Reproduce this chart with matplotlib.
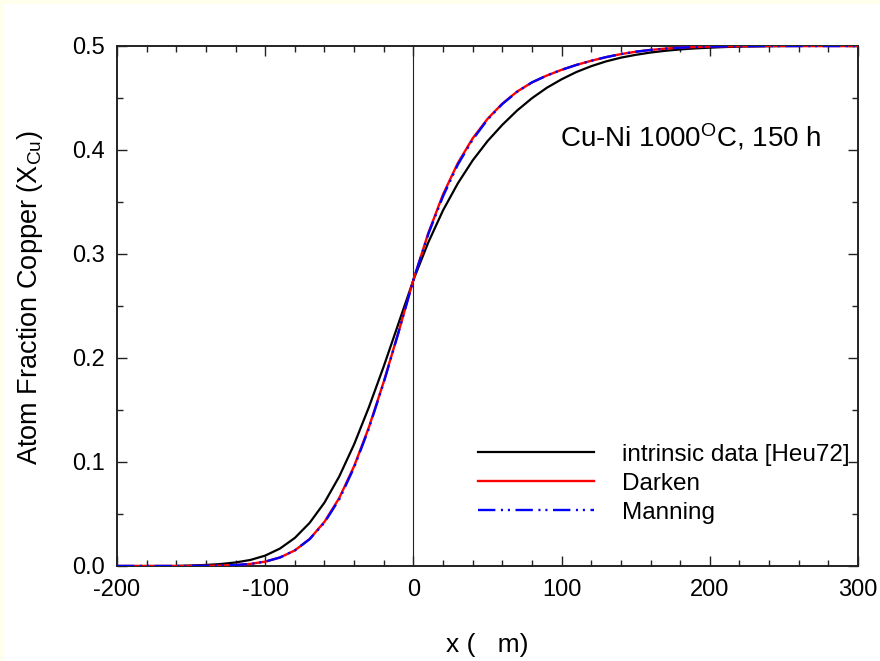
import matplotlib
matplotlib.use("Agg")
import matplotlib.pyplot as plt
from matplotlib.patches import Rectangle
from matplotlib.ticker import MultipleLocator, FormatStrFormatter

plt.rcParams['font.family'] = ['Liberation Sans', 'DejaVu Sans']
plt.rcParams['mathtext.fontset'] = 'custom'
plt.rcParams['mathtext.rm'] = 'Liberation Sans'
plt.rcParams['mathtext.it'] = 'Liberation Sans:italic'
plt.rcParams['lines.scale_dashes'] = False
plt.rcParams['axes.unicode_minus'] = False

# distance (micrometres)
x_um = [-200, -190, -180, -170, -160, -150, -140, -130, -120, -110,
        -100, -90, -80, -70, -60, -50, -40, -30, -20, -10,
        0, 10, 20, 30, 40, 50, 60, 70, 80, 90,
        100, 110, 120, 130, 140, 150, 160, 170, 180, 190,
        200, 210, 220, 230, 240, 250, 260, 270, 280, 290, 300]

# intrinsic data [Heu72]
x_intrinsic = [0.0, 0.0, 0.0, 0.0, 0.0, 0.0005, 0.0010, 0.0019, 0.0034, 0.0058,
               0.0100, 0.0168, 0.0270, 0.0415, 0.0610, 0.0862, 0.1170, 0.1528, 0.1920, 0.2335,
               0.2750, 0.3110, 0.3420, 0.3680, 0.3900, 0.4085, 0.4242, 0.4380, 0.4498, 0.4598,
               0.4680, 0.4750, 0.4806, 0.4852, 0.4888, 0.4915, 0.4937, 0.4954, 0.4967, 0.4977,
               0.4984, 0.4990, 0.4994, 0.4996, 0.4998, 0.4999, 0.5, 0.5, 0.5, 0.5, 0.5]

# Darken model
x_darken = [0.0, 0.0, 0.0, 0.0, 0.0, 0.0001, 0.0002, 0.0004, 0.0009, 0.0020,
            0.0042, 0.0082, 0.0150, 0.0260, 0.0425, 0.0655, 0.0960, 0.1335, 0.1772, 0.2252,
            0.2751, 0.3199, 0.3573, 0.3875, 0.4112, 0.4299, 0.4446, 0.4562, 0.4650, 0.4716,
            0.4771, 0.4818, 0.4858, 0.4893, 0.4922, 0.4945, 0.4962, 0.4975, 0.4984, 0.4990,
            0.4994, 0.4996, 0.4998, 0.4999, 0.5, 0.5, 0.5, 0.5, 0.5, 0.5, 0.5]

# Manning model
x_manning = [0.0, 0.0, 0.0, 0.0, 0.0, 0.0001, 0.0002, 0.0004, 0.0009, 0.0020,
             0.0042, 0.0082, 0.0150, 0.0258, 0.0418, 0.0642, 0.0948, 0.1325, 0.1765, 0.2248,
             0.2751, 0.3190, 0.3555, 0.3860, 0.4100, 0.4292, 0.4442, 0.4560, 0.4650, 0.4716,
             0.4771, 0.4818, 0.4858, 0.4893, 0.4922, 0.4945, 0.4962, 0.4975, 0.4984, 0.4990,
             0.4994, 0.4996, 0.4998, 0.4999, 0.5, 0.5, 0.5, 0.5, 0.5, 0.5, 0.5]

series_labels = ['intrinsic data [Heu72]', 'Darken', 'Manning']
x_ticks = [-200, -100, 0, 100, 200, 300]
y_ticks = [0.0, 0.1, 0.2, 0.3, 0.4, 0.5]

W, H = 880, 661
fig = plt.figure(figsize=(W / 100, H / 100), dpi=100)
fig.patch.set_facecolor('#FFFFEC')
fig.patches.append(Rectangle((4 / W, 0), 1, 1 - 4 / H, transform=fig.transFigure,
                             facecolor='white', edgecolor='none', zorder=-10))

ax = fig.add_axes([117 / W, 1 - 566 / H, (858 - 117) / W, (566 - 46) / H])
ax.set_xlim(-200, 300)
ax.set_ylim(0, 0.5)

ax.axvline(0, color='#222222', lw=0.8, zorder=1)

ax.plot(x_um, x_intrinsic, color='black', lw=1.6, label=series_labels[0], zorder=2)
ax.plot(x_um, x_darken, color='#FF0000', lw=1.7, label=series_labels[1], zorder=3)
ax.plot(x_um, x_manning, color='#0000FF', lw=1.7, label=series_labels[2], zorder=4,
        dashes=[12.5, 4, 1.5, 3.5, 1.5, 4])

ax.set_xticks(x_ticks)
ax.set_yticks(y_ticks)
ax.xaxis.set_minor_locator(MultipleLocator(20))
ax.yaxis.set_minor_locator(MultipleLocator(0.05))
ax.yaxis.set_major_formatter(FormatStrFormatter('%.1f'))
ax.tick_params(which='both', direction='in', top=True, right=True,
               color='#222222', width=1.0, labelsize=17, pad=9)
ax.tick_params(which='major', length=7)
ax.tick_params(which='minor', length=4)
for s in ax.spines.values():
    s.set_linewidth(1.4)
    s.set_color('#222222')

ax.set_xlabel('x (   m)', fontsize=19)
ax.set_ylabel(r'Atom Fraction Copper (X$_{\mathrm{Cu}}$)', fontsize=19.5)
ax.xaxis.set_label_coords(0.5, -0.128)
ax.yaxis.set_label_coords(-0.097, 0.516)

ax.text(187.3, 0.4029, r'Cu-Ni 1000$^{\mathrm{O}}$C, 150 h', fontsize=20,
        ha='center', va='baseline')

ax.legend(loc='upper left', bbox_to_anchor=(0.487, 0.235), frameon=False,
          fontsize=17.5, handlelength=4.77, handletextpad=1.15, labelspacing=0.29,
          borderpad=0, borderaxespad=0)

fig.savefig('out.png', dpi=100, facecolor=fig.get_facecolor())
